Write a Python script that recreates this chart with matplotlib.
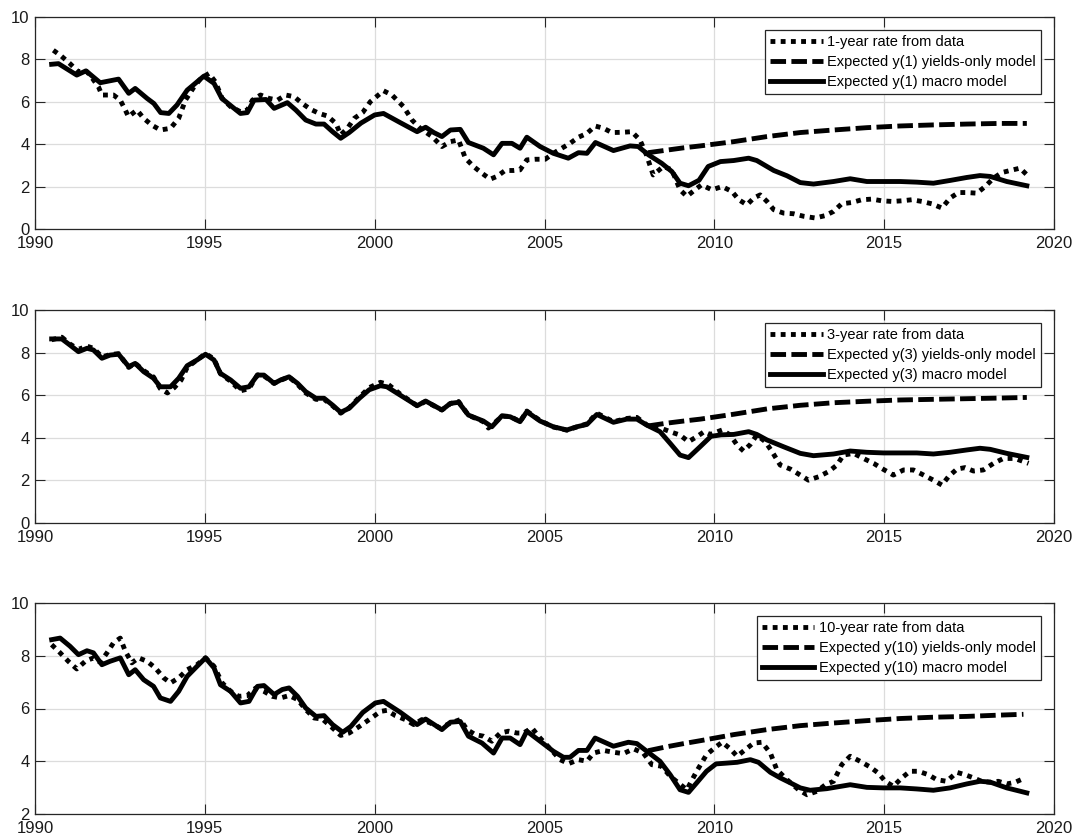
import matplotlib
matplotlib.use("Agg")
import matplotlib.pyplot as plt
import numpy as np

plt.rcParams['font.family'] = ['Liberation Sans', 'DejaVu Sans']

# ---------------- Panel 1 : 1-year ----------------
p1_macro_t = [1990.49, 1990.69, 1991.23, 1991.5, 1991.65, 1991.92, 1992.46, 1992.76, 1992.95, 1993.3, 1993.5, 1993.7,
              1993.94, 1994.18, 1994.48, 1994.77, 1994.97, 1995.27, 1995.5, 1995.8, 1996.05, 1996.25, 1996.45, 1996.8,
              1997.04, 1997.43, 1997.68, 1997.97, 1998.27, 1998.51, 1998.76, 1999.0, 1999.25, 1999.6, 2000.0, 2000.26,
              2000.75, 2001.25, 2001.5, 2001.74, 2001.98, 2002.23, 2002.52, 2002.76, 2003.2, 2003.5, 2003.75, 2004.04,
              2004.28, 2004.48, 2004.87, 2005.26, 2005.7, 2006.0, 2006.25, 2006.5, 2007.03, 2007.52, 2007.76, 2008.06,
              2008.45, 2008.75, 2008.99, 2009.24, 2009.55, 2009.82, 2010.18, 2010.57, 2011.01, 2011.25, 2011.75,
              2012.14, 2012.53, 2012.92, 2013.51, 2014.0, 2014.49, 2014.98, 2015.47, 2015.96, 2016.45, 2016.94,
              2017.43, 2017.82, 2018.12, 2018.61, 2019.2]
p1_macro_y = [7.77, 7.8, 7.26, 7.46, 7.26, 6.9, 7.07, 6.4, 6.63, 6.16, 5.92, 5.49,
              5.45, 5.85, 6.55, 6.94, 7.21, 6.87, 6.16, 5.77, 5.45, 5.49, 6.08, 6.11,
              5.69, 5.96, 5.61, 5.14, 4.95, 4.95, 4.59, 4.28, 4.55, 5.0, 5.38, 5.45,
              5.02, 4.59, 4.8, 4.55, 4.36, 4.67, 4.7, 4.08, 3.81, 3.5, 4.04, 4.04,
              3.81, 4.33, 3.89, 3.57, 3.34, 3.6, 3.57, 4.08, 3.7, 3.92, 3.89, 3.5,
              3.1, 2.71, 2.16, 2.04, 2.3, 2.95, 3.18, 3.23, 3.34, 3.23, 2.76,
              2.51, 2.19, 2.12, 2.24, 2.37, 2.24, 2.24, 2.24, 2.21, 2.16, 2.29,
              2.43, 2.52, 2.48, 2.24, 2.04]

p1_data_t = [1990.54, 1990.78, 1991.03, 1991.28, 1991.48, 1991.62, 1991.87, 1991.97, 1992.31, 1992.51, 1992.66, 1992.75,
             1993.0, 1993.2, 1993.44, 1993.69, 1993.99, 1994.23, 1994.43, 1994.68, 1994.88, 1995.12, 1995.31, 1995.51,
             1995.76, 1996.05, 1996.25, 1996.4, 1996.64, 1996.89, 1997.14, 1997.38, 1997.63, 1997.87, 1998.12, 1998.37,
             1998.61, 1998.86, 1999.0, 1999.2, 1999.4, 1999.65, 1999.87, 2000.26, 2000.51, 2000.85, 2001.1, 2001.34,
             2001.69, 2001.98, 2002.23, 2002.47, 2002.67, 2002.91, 2003.16, 2003.4, 2003.6, 2003.84, 2004.09, 2004.28,
             2004.48, 2004.73, 2005.02, 2005.26, 2005.51, 2005.75, 2006.0, 2006.25, 2006.49, 2006.74, 2006.98, 2007.27,
             2007.57, 2007.81, 2008.0, 2008.2, 2008.5, 2008.75, 2008.99, 2009.19, 2009.43, 2009.62, 2009.93, 2010.23,
             2010.52, 2010.72, 2010.96, 2011.16, 2011.35, 2011.55, 2011.75, 2012.04, 2012.33, 2012.63, 2012.97, 2013.26,
             2013.51, 2013.75, 2014.05, 2014.34, 2014.64, 2014.93, 2015.23, 2015.52, 2015.81, 2016.11, 2016.4, 2016.7,
             2016.94, 2017.19, 2017.43, 2017.73, 2017.97, 2018.22, 2018.46, 2018.71, 2019.0, 2019.25]
p1_data_y = [8.43, 8.15, 7.8, 7.41, 7.49, 7.26, 6.7, 6.32, 6.32, 6.08, 5.61, 5.3,
             5.61, 5.22, 4.9, 4.67, 4.75, 5.22, 6.08, 6.7, 7.1, 7.34, 6.94, 6.16,
             5.77, 5.53, 5.61, 6.08, 6.32, 6.16, 6.08, 6.32, 6.24, 5.92, 5.64, 5.45,
             5.33, 4.98, 4.44, 4.75, 5.22, 5.5, 6.0, 6.52, 6.32, 5.77, 5.14, 4.75,
             4.36, 3.89, 4.12, 4.2, 3.34, 2.95, 2.63, 2.35, 2.48, 2.76, 2.76, 2.79,
             3.26, 3.29, 3.29, 3.57, 3.81, 4.04, 4.33, 4.51, 4.86, 4.75, 4.55, 4.56,
             4.59, 4.2, 3.5, 2.55, 2.95, 2.79, 1.85, 1.54, 1.85, 2.08, 1.85, 2.0,
             1.77, 1.38, 1.14, 1.46, 1.61, 1.3, 0.91, 0.75, 0.72, 0.6, 0.52, 0.63,
             0.83, 1.19, 1.25, 1.38, 1.41, 1.33, 1.3, 1.33, 1.38, 1.3, 1.19, 0.99,
             1.46, 1.72, 1.72, 1.69, 2.0, 2.4, 2.66, 2.76, 2.87, 2.48]

p1_yo_t = [2008.05, 2008.6, 2009.1, 2009.59, 2010.57, 2011.55, 2012.53, 2013.51, 2014.49, 2015.47, 2016.45,
           2017.43, 2018.41, 2019.2]
p1_yo_y = [3.6, 3.72, 3.83, 3.92, 4.12, 4.36, 4.55, 4.67, 4.78, 4.86, 4.91, 4.95, 4.98, 4.98]

# ---------------- Panel 2 : 3-year ----------------
p2_macro_t = [1990.49, 1990.79, 1991.03, 1991.28, 1991.53, 1991.72, 1991.97, 1992.21, 1992.46, 1992.76, 1992.95, 1993.2,
              1993.49, 1993.69, 1993.99, 1994.23, 1994.48, 1994.77, 1995.02, 1995.27, 1995.46, 1995.76, 1996.05, 1996.3,
              1996.55, 1996.74, 1997.04, 1997.23, 1997.48, 1997.73, 1997.97, 1998.27, 1998.51, 1998.76, 1999.0, 1999.25,
              1999.55, 1999.84, 2000.17, 2000.36, 2000.75, 2001.25, 2001.5, 2001.98, 2002.23, 2002.47, 2002.76, 2003.2,
              2003.45, 2003.75, 2003.99, 2004.28, 2004.48, 2004.87, 2005.26, 2005.66, 2005.95, 2006.25, 2006.54, 2007.03,
              2007.42, 2007.72, 2008.01, 2008.4, 2008.7, 2008.99, 2009.24, 2009.58, 2009.9, 2010.2, 2010.57, 2011.01,
              2011.25, 2011.55, 2012.04, 2012.53, 2012.92, 2013.51, 2014.0, 2014.49, 2014.98, 2015.47, 2015.96, 2016.45,
              2016.94, 2017.43, 2017.82, 2018.12, 2018.61, 2019.2]
p2_macro_y = [8.64, 8.64, 8.35, 8.04, 8.2, 8.12, 7.73, 7.88, 7.92, 7.34, 7.49, 7.1,
              6.79, 6.39, 6.39, 6.79, 7.38, 7.65, 7.92, 7.65, 7.02, 6.71, 6.32, 6.39,
              6.94, 6.94, 6.55, 6.71, 6.86, 6.55, 6.16, 5.85, 5.85, 5.53, 5.19, 5.38,
              5.85, 6.25, 6.44, 6.39, 6.0, 5.5, 5.72, 5.3, 5.61, 5.66, 5.06, 4.78,
              4.51, 5.03, 4.98, 4.75, 5.22, 4.78, 4.51, 4.36, 4.51, 4.62, 5.09, 4.72,
              4.87, 4.87, 4.59, 4.28, 3.73, 3.18, 3.06, 3.57, 4.06, 4.13, 4.15, 4.28,
              4.15, 3.89, 3.57, 3.26, 3.15, 3.23, 3.37, 3.31, 3.28, 3.28, 3.28, 3.23,
              3.31, 3.42, 3.5, 3.45, 3.26, 3.07]

p2_data_t = [1990.49, 1990.79, 1991.03, 1991.28, 1991.53, 1991.72, 1991.97, 1992.21, 1992.46, 1992.76, 1992.95, 1993.2,
             1993.49, 1993.69, 1993.9, 1994.1, 1994.3, 1994.48, 1994.77, 1995.02, 1995.27, 1995.46, 1995.76, 1996.05,
             1996.3, 1996.55, 1996.74, 1997.04, 1997.23, 1997.48, 1997.73, 1997.97, 1998.27, 1998.51, 1998.76, 1999.0,
             1999.25, 1999.55, 1999.84, 2000.17, 2000.4, 2000.75, 2001.25, 2001.5, 2001.98, 2002.23, 2002.47, 2002.76,
             2003.2, 2003.35, 2003.75, 2003.99, 2004.28, 2004.48, 2004.87, 2005.26, 2005.66, 2005.95, 2006.25, 2006.54,
             2007.03, 2007.42, 2007.72, 2008.01, 2008.2, 2008.5, 2008.75, 2008.99, 2009.24, 2009.48, 2009.7, 2009.88,
             2010.23, 2010.47, 2010.67, 2010.86, 2011.06, 2011.25, 2011.5, 2011.7, 2011.94, 2012.24, 2012.53, 2012.77,
             2013.07, 2013.36, 2013.61, 2013.8, 2014.1, 2014.39, 2014.69, 2014.93, 2015.27, 2015.57, 2015.86, 2016.16,
             2016.45, 2016.7, 2016.89, 2017.14, 2017.38, 2017.63, 2017.92, 2018.22, 2018.51, 2018.85, 2019.25]
p2_data_y = [8.6, 8.72, 8.4, 8.15, 8.3, 8.2, 7.8, 7.9, 7.95, 7.3, 7.5, 7.15,
             6.85, 6.3, 6.1, 6.35, 6.7, 7.3, 7.65, 7.95, 7.7, 7.0, 6.65, 6.2,
             6.3, 6.95, 6.9, 6.55, 6.7, 6.85, 6.5, 6.1, 5.8, 5.8, 5.5, 5.15,
             5.4, 5.9, 6.35, 6.6, 6.5, 6.05, 5.5, 5.7, 5.3, 5.6, 5.7, 5.05,
             4.75, 4.45, 5.0, 5.0, 4.75, 5.25, 4.8, 4.5, 4.35, 4.5, 4.65, 5.15,
             4.75, 4.9, 4.95, 4.6, 4.45, 4.4, 4.25, 4.12, 3.81, 4.04, 4.28, 4.15,
             4.36, 4.12, 3.65, 3.37, 3.68, 4.12, 3.81, 3.34, 2.71, 2.52, 2.24, 2.0,
             2.16, 2.4, 2.71, 3.18, 3.26, 3.02, 2.79, 2.55, 2.24, 2.48, 2.48, 2.24,
             2.0, 1.77, 2.16, 2.52, 2.59, 2.43, 2.48, 2.79, 3.02, 3.02, 2.79]

p2_yo_t = [2008.05, 2008.6, 2009.1, 2009.59, 2010.57, 2011.55, 2012.53, 2013.51, 2014.49, 2015.47, 2016.45,
           2017.43, 2018.41, 2019.2]
p2_yo_y = [4.55, 4.68, 4.78, 4.87, 5.1, 5.35, 5.52, 5.64, 5.71, 5.77, 5.8, 5.83, 5.86, 5.89]

# ---------------- Panel 3 : 10-year ----------------
p3_macro_t = [1990.49, 1990.74, 1991.03, 1991.28, 1991.53, 1991.72, 1991.97, 1992.21, 1992.51, 1992.76, 1992.95, 1993.2,
              1993.49, 1993.69, 1993.99, 1994.23, 1994.48, 1994.77, 1995.02, 1995.27, 1995.46, 1995.76, 1996.05, 1996.3,
              1996.55, 1996.74, 1997.04, 1997.28, 1997.48, 1997.73, 1997.97, 1998.27, 1998.51, 1998.76, 1999.06, 1999.3,
              1999.65, 2000.02, 2000.26, 2000.75, 2001.25, 2001.5, 2001.98, 2002.23, 2002.52, 2002.76, 2003.16, 2003.5,
              2003.75, 2003.99, 2004.28, 2004.48, 2004.87, 2005.26, 2005.56, 2005.75, 2006.0, 2006.25, 2006.49, 2007.03,
              2007.47, 2007.72, 2008.01, 2008.4, 2008.7, 2008.99, 2009.24, 2009.48, 2009.77, 2010.05, 2010.37, 2010.67,
              2011.06, 2011.3, 2011.65, 2011.94, 2012.24, 2012.53, 2012.82, 2013.31, 2014.0, 2014.49, 2014.98, 2015.47,
              2015.96, 2016.45, 2016.94, 2017.43, 2017.82, 2018.12, 2018.61, 2019.2]
p3_macro_y = [8.61, 8.67, 8.36, 8.04, 8.19, 8.11, 7.66, 7.79, 7.92, 7.28, 7.47, 7.09,
              6.84, 6.4, 6.27, 6.65, 7.22, 7.6, 7.92, 7.54, 6.9, 6.65, 6.21, 6.27,
              6.84, 6.87, 6.53, 6.72, 6.78, 6.46, 6.02, 5.7, 5.73, 5.39, 5.1, 5.32,
              5.85, 6.21, 6.27, 5.86, 5.39, 5.6, 5.2, 5.48, 5.51, 4.95, 4.69, 4.31,
              4.88, 4.88, 4.63, 5.14, 4.76, 4.38, 4.15, 4.15, 4.41, 4.41, 4.88, 4.57,
              4.72, 4.67, 4.38, 4.0, 3.49, 2.92, 2.82, 3.18, 3.62, 3.9, 3.93, 3.96,
              4.06, 3.96, 3.58, 3.37, 3.18, 2.99, 2.9, 2.96, 3.11, 3.01, 2.99, 2.99,
              2.95, 2.9, 2.99, 3.14, 3.24, 3.21, 2.99, 2.8]

p3_data_t = [1990.49, 1990.74, 1990.98, 1991.23, 1991.48, 1991.72, 1991.92, 1992.12, 1992.31, 1992.51, 1992.66, 1992.85,
             1993.05, 1993.3, 1993.54, 1993.79, 1993.99, 1994.23, 1994.48, 1994.77, 1995.02, 1995.27, 1995.51, 1995.76,
             1996.0, 1996.25, 1996.5, 1996.74, 1996.99, 1997.23, 1997.48, 1997.73, 1997.97, 1998.22, 1998.46, 1998.71,
             1999.0, 1999.25, 1999.55, 1999.84, 2000.17, 2000.36, 2000.61, 2000.9, 2001.15, 2001.39, 2001.64, 2001.93,
             2002.23, 2002.52, 2002.72, 2002.96, 2003.2, 2003.45, 2003.7, 2003.94, 2004.19, 2004.38, 2004.63, 2004.87,
             2005.17, 2005.46, 2005.71, 2006.0, 2006.25, 2006.44, 2006.74, 2007.03, 2007.32, 2007.62, 2007.91, 2008.16,
             2008.45, 2008.7, 2008.94, 2009.19, 2009.48, 2009.77, 2010.07, 2010.23, 2010.47, 2010.67, 2010.91, 2011.16,
             2011.4, 2011.65, 2011.84, 2012.14, 2012.48, 2012.73, 2013.02, 2013.27, 2013.51, 2013.75, 2014.0, 2014.29,
             2014.59, 2014.83, 2015.03, 2015.27, 2015.52, 2015.76, 2016.01, 2016.3, 2016.55, 2016.84, 2017.14, 2017.38,
             2017.63, 2017.87, 2018.12, 2018.36, 2018.61, 2018.85, 2019.15]
p3_data_y = [8.42, 8.11, 7.79, 7.5, 7.79, 7.92, 7.75, 8.11, 8.49, 8.67, 8.17, 7.73,
             7.92, 7.79, 7.54, 7.16, 6.97, 7.16, 7.47, 7.66, 7.92, 7.6, 6.97, 6.65,
             6.46, 6.49, 6.78, 6.65, 6.46, 6.4, 6.49, 6.34, 5.96, 5.64, 5.6, 5.32,
             4.98, 5.07, 5.32, 5.58, 5.89, 5.93, 5.73, 5.58, 5.39, 5.58, 5.45, 5.26,
             5.45, 5.58, 5.2, 5.01, 4.95, 4.76, 5.07, 5.14, 5.07, 5.07, 5.26, 4.88,
             4.47, 4.06, 3.91, 4.06, 4.0, 4.31, 4.41, 4.34, 4.29, 4.47, 4.31, 3.87,
             3.81, 3.43, 3.18, 2.92, 3.62, 4.25, 4.57, 4.72, 4.47, 4.19, 4.44, 4.69,
             4.72, 4.31, 3.68, 3.3, 2.92, 2.73, 2.86, 3.11, 3.24, 3.87, 4.19, 4.0,
             3.78, 3.55, 3.24, 3.05, 3.37, 3.62, 3.62, 3.49, 3.3, 3.24, 3.58, 3.49,
             3.37, 3.24, 3.2, 3.24, 3.14, 3.2, 3.37]

p3_yo_t = [2008.05, 2008.6, 2009.1, 2009.59, 2010.57, 2011.55, 2012.53, 2013.51, 2014.49, 2015.47, 2016.45,
           2017.43, 2018.41, 2019.1]
p3_yo_y = [4.4, 4.55, 4.67, 4.78, 5.01, 5.2, 5.35, 5.45, 5.54, 5.62, 5.67, 5.7, 5.75, 5.78]

labels_1 = ["1-year rate from data", "Expected y(1) yields-only model", "Expected y(1) macro model"]
labels_2 = ["3-year rate from data", "Expected y(3) yields-only model", "Expected y(3) macro model"]
labels_3 = ["10-year rate from data", "Expected y(10) yields-only model", "Expected y(10) macro model"]

x_ticks = [1990, 1995, 2000, 2005, 2010, 2015, 2020]
y_ticks_12 = [0, 2, 4, 6, 8, 10]
y_ticks_3 = [2, 4, 6, 8, 10]

# ---------------- drawing ----------------
fig = plt.figure(figsize=(10.72, 8.39), dpi=100)
W, H = 1072, 839
rects = [(35, 17, 1054, 229), (35, 310, 1054, 522.7), (35, 603, 1054, 814)]

panels = [
    (p1_data_t, p1_data_y, p1_yo_t, p1_yo_y, p1_macro_t, p1_macro_y, labels_1, y_ticks_12, (0, 10)),
    (p2_data_t, p2_data_y, p2_yo_t, p2_yo_y, p2_macro_t, p2_macro_y, labels_2, y_ticks_12, (0, 10)),
    (p3_data_t, p3_data_y, p3_yo_t, p3_yo_y, p3_macro_t, p3_macro_y, labels_3, y_ticks_3, (2, 10)),
]

frame_col = '#262626'
lw = 3.5
for (x0, y0, x1, y1), (dt, dy, yt, yy, mt, my, labs, yt_ticks, ylim) in zip(rects, panels):
    ax = fig.add_axes([x0 / W, 1 - y1 / H, (x1 - x0) / W, (y1 - y0) / H])
    ax.plot(dt, dy, color='black', lw=lw, linestyle=(0, (1, 1.1)), label=labs[0], zorder=3)
    ax.plot(yt, yy, color='black', lw=lw, linestyle=(0, (3.2, 1.1)), label=labs[1], zorder=3)
    ax.plot(mt, my, color='black', lw=lw, linestyle='-', label=labs[2], zorder=3)
    ax.set_xlim(1990, 2020)
    ax.set_ylim(*ylim)
    ax.set_xticks(x_ticks)
    ax.set_yticks(yt_ticks)
    ax.grid(True, color='#dcdcdc', lw=0.9)
    ax.set_axisbelow(True)
    for s in ax.spines.values():
        s.set_color(frame_col)
        s.set_linewidth(0.9)
    ax.tick_params(direction='in', length=7, width=0.8, colors=frame_col, labelsize=12,
                   top=True, right=True, labelcolor='#1a1a1a')
    ax.tick_params(axis='x', pad=5)
    ax.tick_params(axis='y', pad=4)
    leg = ax.legend(loc='upper right', fontsize=10.5, frameon=True, fancybox=False,
                    edgecolor=frame_col, framealpha=1, handlelength=3.6, handletextpad=0.3,
                    labelspacing=0.4, borderpad=0.35, borderaxespad=0.9)
    leg.get_frame().set_linewidth(0.9)

fig.savefig('out.png', dpi=100)
